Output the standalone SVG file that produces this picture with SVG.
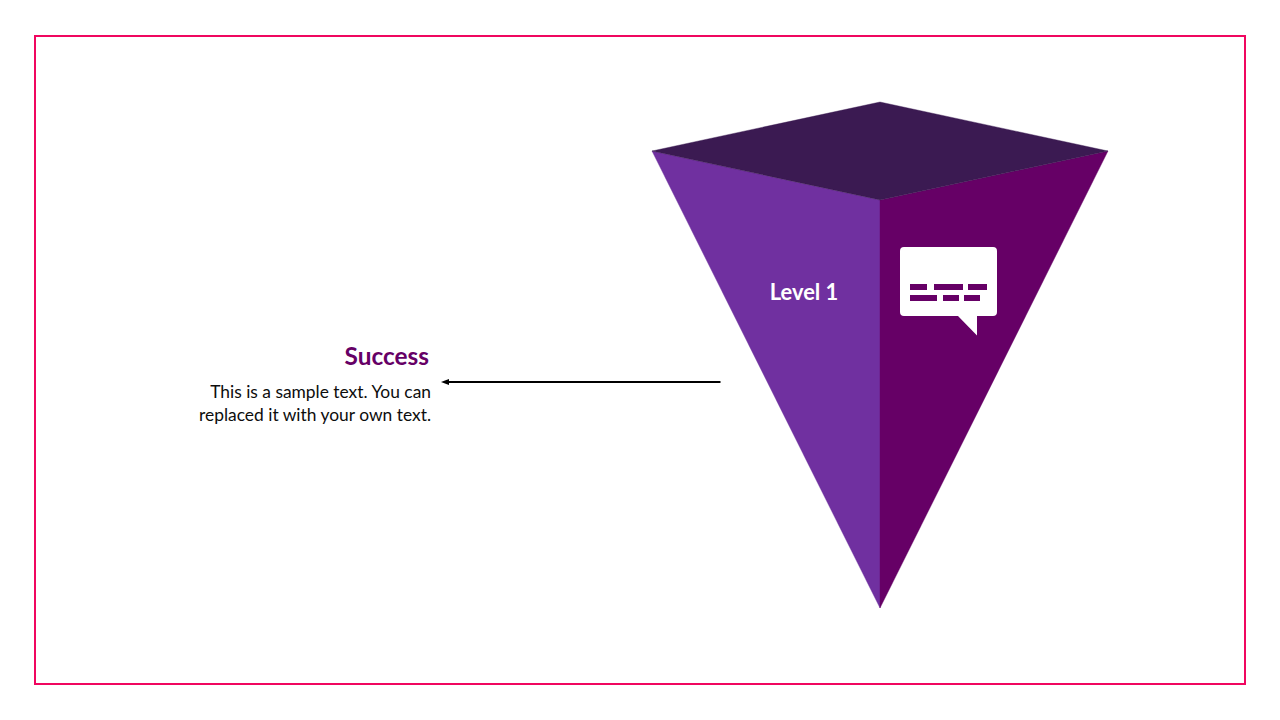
<svg xmlns="http://www.w3.org/2000/svg" width="1280" height="720" viewBox="0 0 1280 720">
<style>
text{font-family:"Lato","Carlito","Liberation Sans",sans-serif}
.body{font-size:17.4px;fill:#0d0d0d;text-anchor:end}
</style>
<defs>
<marker id="arrow" markerWidth="8" markerHeight="8" refX="4" refY="4" orient="auto" markerUnits="userSpaceOnUse"><path d="M0 1L8 4L0 7Z" fill="#000"/></marker>
</defs>
<rect width="1280" height="720" fill="#fff"/>
<rect id="frame" x="35" y="36" width="1210" height="648" fill="none" stroke="#f0065f" stroke-width="2"/>
<g id="pyramid">
<polygon points="652,151 880,200 880,608" fill="#7030a0" stroke="#7030a0" stroke-width="0.4"/>
<polygon points="1108,151 880,200 880,608" fill="#660066" stroke="#660066" stroke-width="0.4"/>
<polygon points="880,102 1108,151 880,200 652,151" fill="#3b1a52" stroke="#3b1a52" stroke-width="0.4"/>
<text x="804" y="299.500" font-size="21.9" font-weight="700" fill="#fff" text-anchor="middle">Level 1</text>
</g>
<g id="icon">
<path d="M904 247H993Q997 247 997 251V312Q997 316 993 316H977V335.500L958 316H904Q900 316 900 312V251Q900 247 904 247Z" fill="#fff"/>
<path d="M910 284h17v6h-17zM934 284h29v6h-29zM968 284h19v6h-19zM910 295h27v6h-27zM943 295h16v6h-16zM964 295h16v6h-16z" fill="#660066"/>
</g>
<g id="connectors">
<line x1="720.500" y1="382" x2="445" y2="382" stroke="#000" stroke-width="2" marker-end="url(#arrow)"/>
</g>
<g id="success">
<text x="429" y="364.500" font-size="24.400" font-weight="700" fill="#660066" text-anchor="end">Success</text>
<text x="431" y="398" class="body">This is a sample text. You can</text>
<text x="431" y="421" class="body">replaced it with your own text.</text>
</g>
</svg>
